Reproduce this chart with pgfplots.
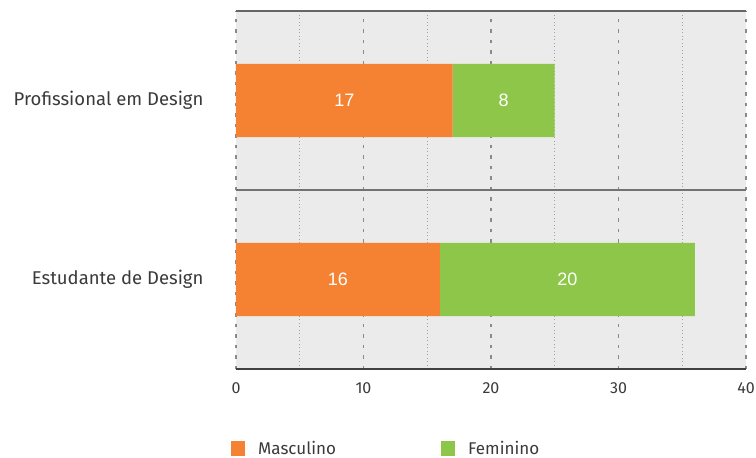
\documentclass[border=0pt]{standalone}
\usepackage{pgfplots}
\pgfplotsset{compat=1.18}
\usepackage{fontspec}
\setmainfont{Fira Sans}
\newfontfamily\labfont{Liberation Sans}
\definecolor{bgc}{HTML}{EBEBEB}
\definecolor{masc}{HTML}{F58233}
\definecolor{fem}{HTML}{8DC649}
\definecolor{txt}{HTML}{3A3A3A}
\definecolor{gridc}{HTML}{8A8A8A}
\pgfplotsset{
  geom/.style={at={(0,0)}, anchor=south west,
    scale only axis, width=510pt, height=358pt,
    xmin=0, xmax=40, ymin=-0.5, ymax=1.5},
}
\begin{document}
\begin{tikzpicture}
\begin{axis}[
  geom,
  xbar stacked, bar width=0.41,
  axis background/.style={fill=bgc},
  axis line style={draw=none},
  xtick={0,10,20,30,40}, minor xtick={5,15,25,35},
  ytick={0,1}, yticklabels={Estudante de Design, Profissional em Design},
  tick style={draw=none},
  xticklabel style={font=\fontsize{16}{18}\selectfont, text=txt, yshift=-10pt},
  yticklabel style={font=\fontsize{18.5}{21}\selectfont, text=txt, xshift=-29pt},
  /pgf/number format/assume math mode=true,
  xmajorgrids, xminorgrids,
  major grid style={draw=gridc, line width=1.4pt, dash pattern=on 3.5pt off 7pt},
  minor grid style={draw=gridc!80, line width=0.8pt, dash pattern=on 0.9pt off 2.6pt},
  extra y ticks={0.5}, extra y tick labels={},
  extra y tick style={grid=major, major grid style={draw=gray!110, solid, line width=1.6pt}},
  legend columns=2,
  legend style={at={(axis description cs:-0.0098,-0.222)}, anchor=west, draw=none, fill=none,
    font=\fontsize{17}{19}\selectfont, text=txt, inner sep=0pt,
    /tikz/every odd column/.append style={column sep=11pt}},
  legend image code/.code={\fill[#1,draw=none] (0pt,-7.5pt) rectangle (14pt,7.5pt);},
]
\addplot[fill=masc, draw=none] coordinates {(16,0) (17,1)};
\addlegendentry{\makebox[181pt][l]{Masculino}}
\addplot[fill=fem, draw=none] coordinates {(20,0) (8,1)};
\addlegendentry{Feminino}
\draw[draw=gray!120, line width=1.6pt] (rel axis cs:0,1) -- (rel axis cs:1,1);
\draw[draw=black!75, line width=1.8pt] (rel axis cs:0,0) -- (rel axis cs:1,0);
\end{axis}
\begin{axis}[geom, hide axis]
\addplot[only marks, mark=none, nodes near coords, point meta=explicit symbolic,
  every node near coord/.append style={anchor=center, text=white,
    font=\labfont\fontsize{18}{20}\selectfont}]
  coordinates {(8,0) [16] (26,0) [20] (8.5,1) [17] (21,1) [8]};
\end{axis}
\pgfresetboundingbox
\path[use as bounding box] (-236pt,-89pt) rectangle (520pt,369pt);
\end{tikzpicture}
\end{document}
